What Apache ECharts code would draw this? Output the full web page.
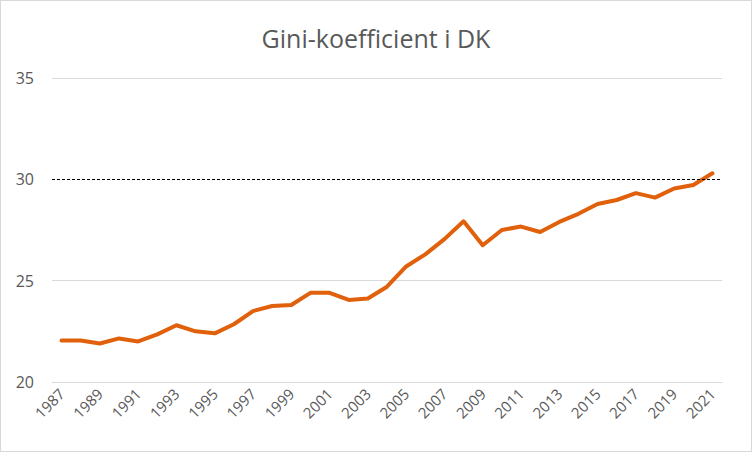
<!DOCTYPE html>
<html>
<head>
<meta charset="utf-8">
<script src="https://cdn.jsdelivr.net/npm/echarts@6/dist/echarts.min.js"></script>
<style>
  html, body { margin: 0; padding: 0; background: #fff; }
  #chart { position: absolute; left: 0; top: 0; width: 750px; height: 450px; border: 1px solid #d9d9d9; }
</style>
</head>
<body>
<div id="chart"></div>
<script>
var years = ['1987', '1988', '1989', '1990', '1991', '1992', '1993', '1994', '1995', '1996',
  '1997', '1998', '1999', '2000', '2001', '2002', '2003', '2004', '2005', '2006',
  '2007', '2008', '2009', '2010', '2011', '2012', '2013', '2014', '2015', '2016',
  '2017', '2018', '2019', '2020', '2021'];
var gini = [22.05, 22.05, 21.9, 22.15, 22.0, 22.35, 22.8, 22.5, 22.4, 22.85,
  23.5, 23.75, 23.8, 24.4, 24.4, 24.05, 24.12, 24.7, 25.7, 26.3,
  27.05, 27.93, 26.75, 27.5, 27.67, 27.4, 27.9, 28.3, 28.78, 28.98,
  29.32, 29.1, 29.55, 29.72, 30.3];
var refLine = 30;

(function() {
  var muted = '#595959';
  var rule = '#d9d9d9';
  var lineColor = '#e0600b';
  var font = 'Open Sans';

  var chart = echarts.init(document.getElementById('chart'), null, { renderer: 'svg' });
  chart.setOption({
    animation: false,
    backgroundColor: '#fff',
    title: {
      text: 'Gini-koefficient i DK',
      left: 'center',
      top: 19,
      textStyle: { color: muted, fontSize: 25, fontWeight: 'normal', fontFamily: font }
    },
    grid: { left: 51, right: 29, top: 77, bottom: 69 },
    xAxis: {
      type: 'category',
      data: years,
      boundaryGap: true,
      axisLine: { lineStyle: { color: rule } },
      axisTick: { show: false },
      axisLabel: {
        color: muted,
        fontSize: 15,
        fontFamily: font,
        rotate: 45,
        interval: 1,
        margin: 9
      }
    },
    yAxis: {
      type: 'value',
      min: 20,
      max: 35,
      interval: 5,
      axisLine: { show: false },
      axisTick: { show: false },
      axisLabel: { color: muted, fontSize: 16, fontFamily: font, margin: 18 },
      splitLine: { lineStyle: { color: [rule, rule, '#ffffff', rule] } }
    },
    series: [{
      type: 'line',
      data: gini,
      symbol: 'none',
      lineStyle: { color: lineColor, width: 4, join: 'round', cap: 'round' },
      markLine: {
        silent: true,
        symbol: 'none',
        label: { show: false },
        lineStyle: { color: '#000', type: [3, 2], width: 1 },
        data: [{ yAxis: refLine }]
      },
      z: 3
    }]
  });
})();
</script>
</body>
</html>
